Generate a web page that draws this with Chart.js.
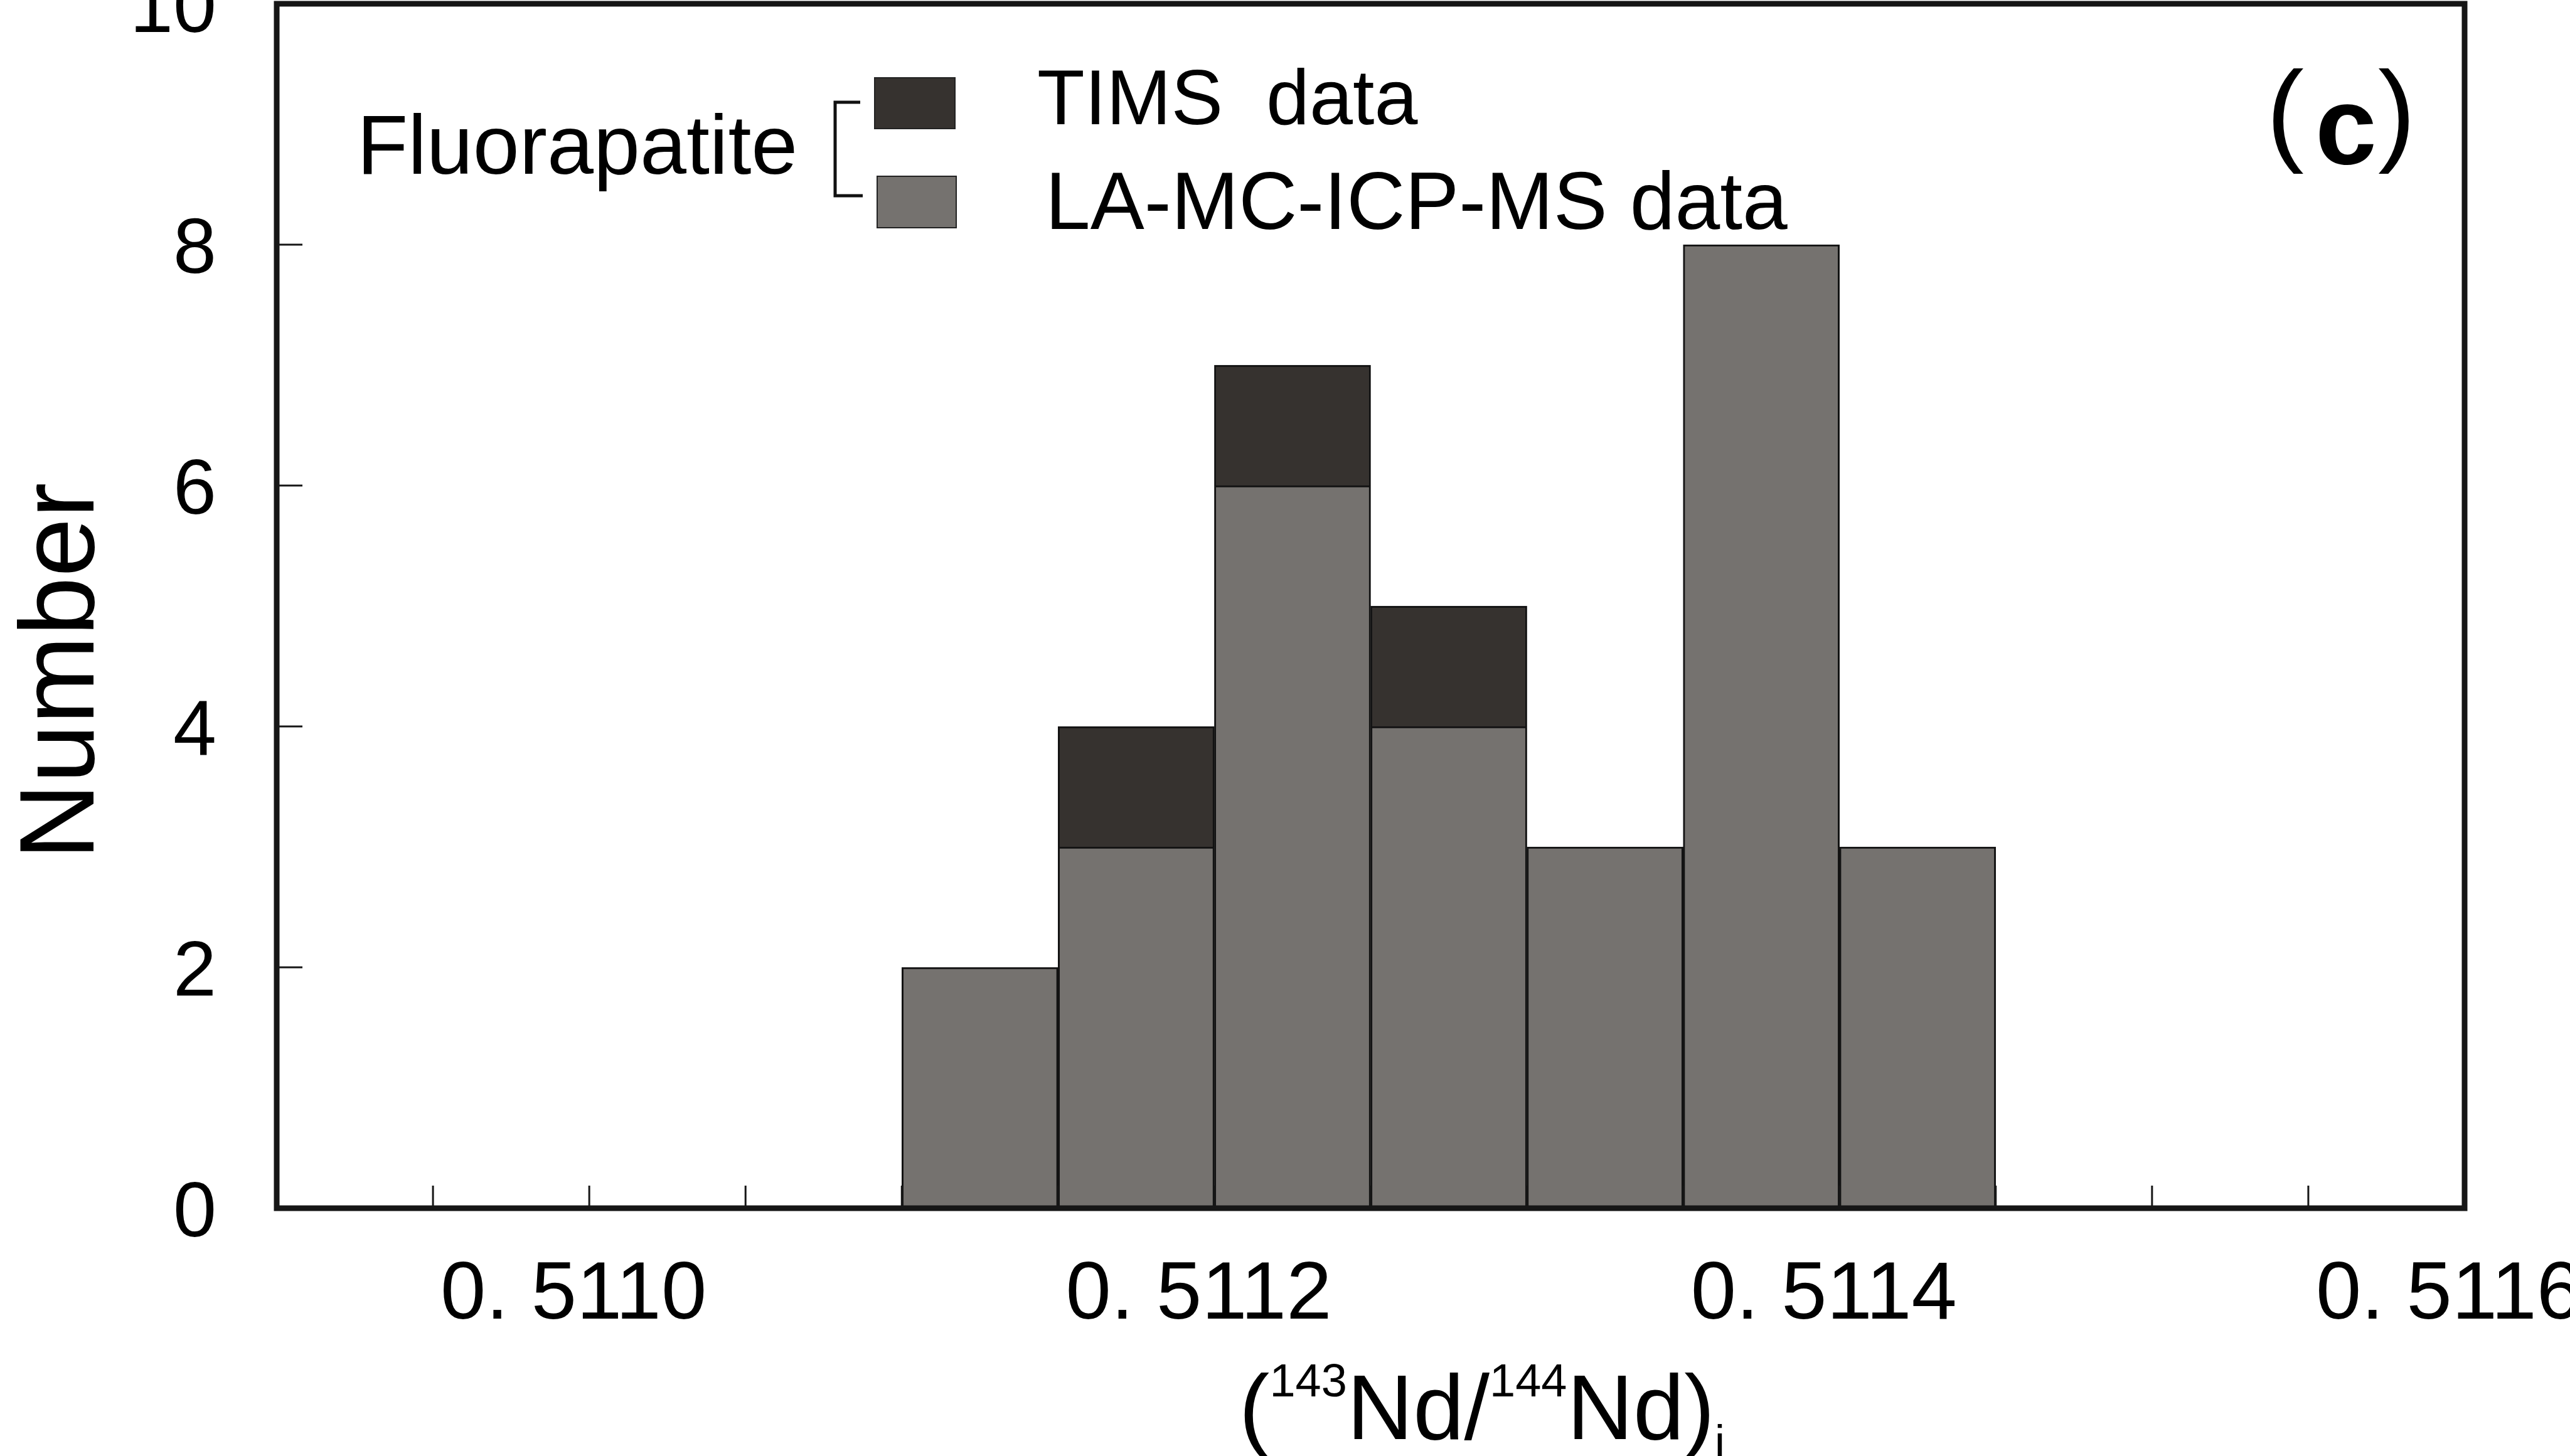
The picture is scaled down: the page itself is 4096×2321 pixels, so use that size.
<!DOCTYPE html>
<html>
<head>
<meta charset="utf-8">
<script src="https://cdn.jsdelivr.net/npm/chart.js@4/dist/chart.umd.min.js"></script>
<style>
  html, body { margin: 0; padding: 0; background: #fff; overflow: hidden; }
  canvas { display: block; }
</style>
</head>
<body>
<canvas id="histo" width="4096" height="2321"></canvas>
<script>
// bin centres of the (143Nd/144Nd)i histogram, bin width 0.00005
const binCenters = [0.511125, 0.511175, 0.511225, 0.511275, 0.511325, 0.511375, 0.511425];
const laCounts   = [2, 3, 6, 4, 3, 8, 3];   // LA-MC-ICP-MS data
const timsCounts = [0, 1, 1, 1, 0, 0, 0];   // TIMS data, stacked on top

const xTickValues = [0.51090, 0.51095, 0.51100, 0.51105, 0.51110, 0.51115, 0.51120, 0.51125,
                     0.51130, 0.51135, 0.51140, 0.51145, 0.51150, 0.51155, 0.51160];
const xTickLabels = ['', '', '0. 5110', '', '', '', '0. 5112', '', '', '', '0. 5114', '', '', '', '0. 5116'];
const yTickValues = [0, 2, 4, 6, 8, 10];

const FONT = '"Liberation Sans", Arial, sans-serif';
Chart.defaults.font.family = FONT;
Chart.defaults.color = '#000';

const ctx = document.getElementById('histo');

function line(c, x1, y1, x2, y2) {
  c.beginPath();
  c.moveTo(x1, y1);
  c.lineTo(x2, y2);
  c.stroke();
}

// frame with inward ticks, drawn over the bars
const frame = {
  id: 'frame',
  afterDatasetsDraw(chart) {
    const {ctx: c, chartArea: a, scales: {x, y}} = chart;
    c.save();
    c.strokeStyle = '#161616';
    c.lineWidth = 3;
    xTickValues.forEach(v => {
      const px = x.getPixelForValue(v);
      line(c, px, a.bottom, px, a.bottom - 36);
    });
    yTickValues.forEach(v => {
      const py = y.getPixelForValue(v);
      line(c, a.left, py, a.left + 41, py);
    });
    c.lineWidth = 9;
    c.strokeRect(a.left, a.top, a.right - a.left, a.bottom - a.top);
    c.restore();
  }
};

// legend with bracket, panel tag and axis titles
const texts = {
  id: 'texts',
  afterDraw(chart) {
    const c = chart.ctx;
    const ds = chart.data.datasets;
    c.save();
    c.fillStyle = '#000';
    c.textBaseline = 'alphabetic';

    // legend
    c.textAlign = 'left';
    c.font = '133px ' + FONT;
    c.fillText('Fluorapatite', 569, 277);
    c.font = '124px ' + FONT;
    c.fillText('TIMS  data', 1653, 198);
    c.font = '129px ' + FONT;
    c.fillText('LA-MC-ICP-MS data', 1666, 365);

    c.strokeStyle = '#111';
    c.lineWidth = 5;
    c.beginPath();
    c.moveTo(1371, 163);
    c.lineTo(1331, 163);
    c.lineTo(1331, 312);
    c.lineTo(1375, 312);
    c.stroke();

    c.lineWidth = 2;
    c.strokeStyle = '#222';
    c.fillStyle = ds[1].backgroundColor;
    c.fillRect(1394, 124, 128, 81);
    c.strokeRect(1394, 124, 128, 81);
    c.fillStyle = ds[0].backgroundColor;
    c.fillRect(1398, 281, 126, 82);
    c.strokeRect(1398, 281, 126, 82);

    // panel tag (c)
    c.fillStyle = '#000';
    c.font = '180px ' + FONT;
    c.textAlign = 'left';
    c.fillText('(', 3612, 240);
    c.textAlign = 'right';
    c.fillText(')', 3850, 240);
    c.font = 'bold 176px ' + FONT;
    c.textAlign = 'center';
    c.fillText('c', 3739, 261);

    // y title
    c.save();
    c.translate(102, 1070);
    c.rotate(-Math.PI / 2);
    c.font = '169px ' + FONT;
    c.textAlign = 'center';
    c.textBaseline = 'middle';
    c.fillText('Number', 0, 0);
    c.restore();

    // x title (143Nd/144Nd)i
    const big = '146px ' + FONT, small = '74px ' + FONT;
    const parts = [
      ['(', big, 0], ['143', small, -68], ['Nd/', big, 0],
      ['144', small, -68], ['Nd)', big, 0], ['i', small, 30]
    ];
    c.textAlign = 'left';
    let w = 0;
    parts.forEach(p => { c.font = p[1]; w += c.measureText(p[0]).width; });
    let xp = 2362 - w / 2;
    const base = 2294;
    parts.forEach(p => {
      c.font = p[1];
      c.fillText(p[0], xp, base + p[2]);
      xp += c.measureText(p[0]).width;
    });
    c.restore();
  }
};

new Chart(ctx, {
  type: 'bar',
  data: {
    datasets: [{
      label: 'LA-MC-ICP-MS data',
      data: binCenters.map((x, i) => ({x: x, y: laCounts[i]})),
      backgroundColor: '#75726f',
      borderColor: '#121212',
      borderWidth: 3,
      stack: 'apatite',
      barPercentage: 1,
      categoryPercentage: 1
    }, {
      label: 'TIMS data',
      data: binCenters.map((x, i) => ({x: x, y: timsCounts[i]})),
      backgroundColor: '#36322f',
      borderColor: '#121212',
      borderWidth: 3,
      stack: 'apatite',
      barPercentage: 1,
      categoryPercentage: 1
    }]
  },
  options: {
    responsive: false,
    devicePixelRatio: 1,
    animation: false,
    layout: { padding: { top: 6, right: 168, left: 0, bottom: 0 } },
    plugins: {
      legend: { display: false },
      tooltip: { enabled: false }
    },
    scales: {
      x: {
        type: 'linear',
        min: 0.5109,
        max: 0.5116,
        offset: false,
        stacked: true,
        grid: { display: false, drawTicks: false, offset: false },
        border: { display: false },
        afterBuildTicks: s => { s.ticks = xTickValues.map(v => ({value: v})); },
        afterFit: s => { s.height = 395; s.paddingLeft = 0; s.paddingRight = 0; },
        ticks: {
          autoSkip: false,
          maxRotation: 0,
          minRotation: 0,
          padding: 62,
          labelOffset: -25,
          font: { size: 130 },
          callback: (v, i) => xTickLabels[i]
        }
      },
      y: {
        min: 0,
        max: 10,
        stacked: true,
        grid: { display: false, drawTicks: false },
        border: { display: false },
        afterBuildTicks: s => { s.ticks = yTickValues.map(v => ({value: v})); },
        afterFit: s => { s.width = 441; s.paddingTop = 0; s.paddingBottom = 0; },
        ticks: {
          padding: 96,
          labelOffset: 11,
          font: { size: 124 }
        }
      }
    }
  },
  plugins: [frame, texts]
});
</script>
</body>
</html>
